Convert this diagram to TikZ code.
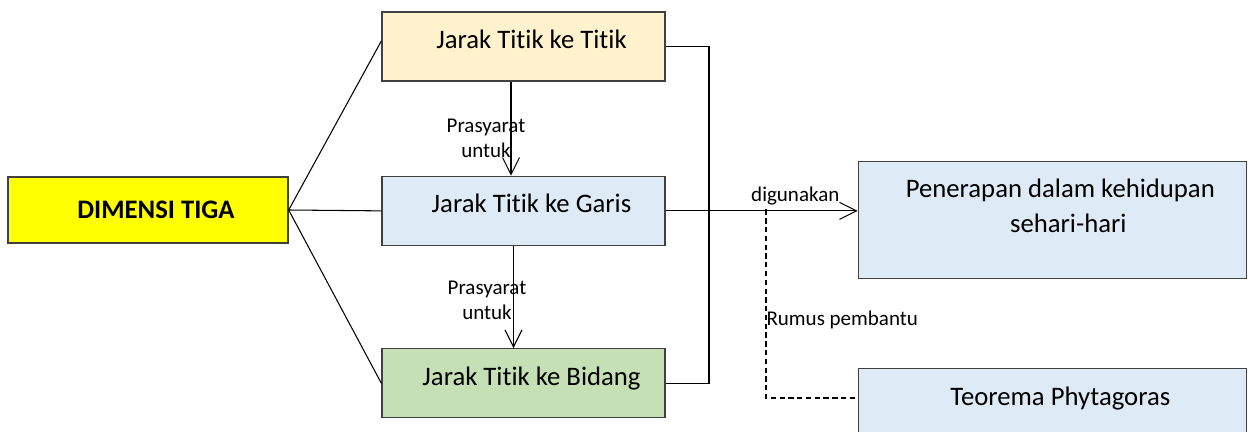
\documentclass[tikz,border=0pt]{standalone}
\usepackage{fontspec}
\setmainfont{Carlito}[Ligatures={NoCommon}]
\usepackage{tikz}
\definecolor{boxyellow}{HTML}{FFFF00}
\definecolor{boxgold}{HTML}{FFF2CC}
\definecolor{boxblue}{HTML}{DEEBF7}
\definecolor{boxgreen}{HTML}{C5E0B4}
\definecolor{boxborder}{HTML}{404040}
\usetikzlibrary{arrows.meta,positioning,calc}

\begin{document}
\begin{tikzpicture}[
    x=0.02cm, y=-0.02cm,
    offset/.style={execute at begin node=\hspace*{0.32cm}},
    main/.style={rectangle, draw=boxborder, line width=0.8pt, fill=boxyellow, minimum width=5.6cm, minimum height=1.32cm, offset, font=\bfseries\fontsize{15.2}{19.9}\selectfont},
    topic/.style={rectangle, draw=boxborder, line width=0.8pt, minimum width=5.66cm, minimum height=1.38cm, text height=0.4cm, text depth=0.32cm, offset, font=\fontsize{15.2}{19.9}\selectfont},
    usage/.style={rectangle, draw=boxborder, line width=0.8pt, fill=boxblue, minimum width=7.76cm, minimum height=2.34cm, align=center, offset, font=\fontsize{15.2}{19.9}\selectfont},
    lbl/.style={align=center, inner sep=1pt, font=\fontsize{11.95}{14.2}\selectfont},
    link/.style={line width=0.6pt},
    arrow/.style={link, -{Straight Barb[length=0.34cm, width=0.34cm]}},
    dashline/.style={link, dash pattern=on 3pt off 2pt}
]

\clip (0,0) rectangle (1251,432);
\fill[white] (0,0) rectangle (1251,432);

% Main topic
\node[main] (dim) at (148,210) {DIMENSI TIGA};

% Sub topics
\node[topic, fill=boxgold] (titik) at (523.5,46.5) {Jarak Titik ke Titik};
\node[topic, fill=boxblue, below=1.88cm of titik] (garis) {Jarak Titik ke Garis};
\node[topic, fill=boxgreen, below=2.04cm of garis] (bidang) {Jarak Titik ke Bidang};

% Usage
\node[usage, right=3.84cm of garis, yshift=-0.18cm, text height=0.9cm, text depth=0.38cm] (pen) {Penerapan dalam kehidupan\\\hspace*{0.32cm}sehari-hari};
\node[usage, below=1.78cm of pen, text height=0.4cm, text depth=1.26cm] (teo) {Teorema Phytagoras};

% Branches
\draw[link] (dim.east) -- ([yshift=0.11cm]titik.west);
\draw[link] (dim.east) -- (garis.west);
\draw[link] (dim.east) -- (bidang.west);

% Prerequisites
\draw[arrow] ([xshift=-0.25cm]titik.south) -- ([xshift=-0.25cm]garis.north) node[lbl, midway, xshift=-0.5cm, yshift=-0.2cm] (pre1) {Prasyarat\\untuk};
\draw[arrow] ([xshift=-0.2cm]garis.south) -- ([xshift=-0.2cm]bidang.north) node[lbl, midway, xshift=-0.53cm, yshift=-0.07cm] (pre2) {Prasyarat\\untuk};

% Bracket
\coordinate (br) at (709,0);
\draw[link] (titik.east) -- (titik.east -| br) -- (bidang.east -| br) -- (bidang.east);

% Applications
\draw[arrow] (garis.east) -- (garis.east -| pen.west) node[lbl, anchor=south east, xshift=-0.32cm, yshift=0.06cm] (dig) {digunakan};

% Helper formula
\coordinate (dj) at (766,209.5);
\coordinate (dk) at (766,398);
\draw[dashline] (dj) -- node[lbl, pos=0.587, anchor=west, xshift=-1pt] (rumus) {Rumus pembantu} (dk) -- (dk -| teo.west);

\end{tikzpicture}
\end{document}
